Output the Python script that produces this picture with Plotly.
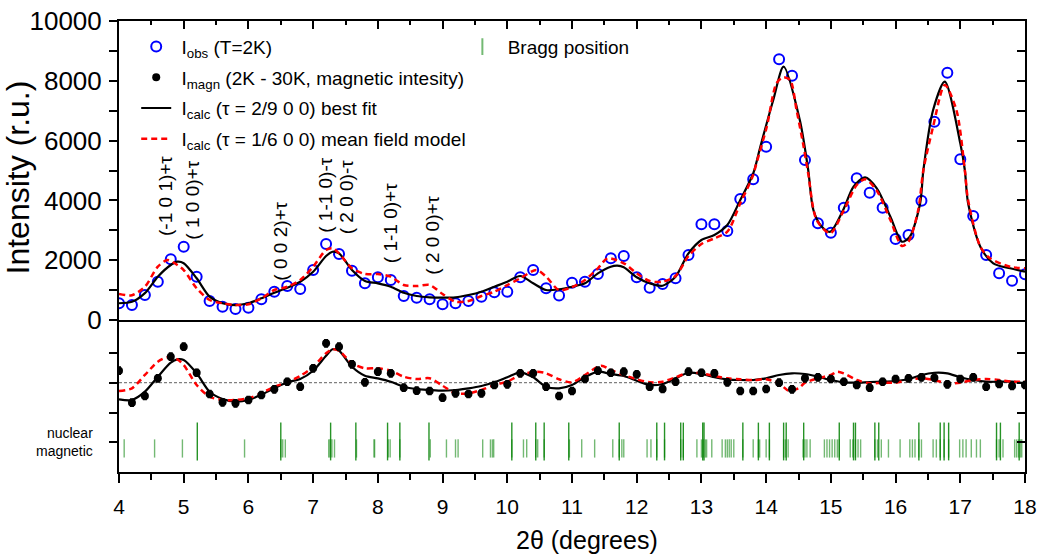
import plotly.graph_objects as go

# ---- measured points (2θ in degrees) ----
two_theta = [4.0, 4.2, 4.4, 4.6, 4.8, 5.0, 5.2, 5.4, 5.6, 5.8, 6.0, 6.2, 6.4, 6.6, 6.8,
             7.0, 7.2, 7.4, 7.6, 7.8, 8.0, 8.2, 8.4, 8.6, 8.8, 9.0, 9.2, 9.4, 9.6, 9.8,
             10.0, 10.2, 10.4, 10.6, 10.8, 11.0, 11.2, 11.4, 11.6, 11.8, 12.0, 12.2, 12.4,
             12.6, 12.8, 13.0, 13.2, 13.4, 13.6, 13.8, 14.0, 14.2, 14.4, 14.6, 14.8, 15.0,
             15.2, 15.4, 15.6, 15.8, 16.0, 16.2, 16.4, 16.6, 16.8, 17.0, 17.2, 17.4, 17.6,
             17.8, 18.0]

# observed intensity at T = 2 K
i_obs = [560, 500, 836, 1280, 2030, 2450, 1450, 635, 445, 368, 411, 692, 947, 1137, 1037,
         1672, 2542, 2207, 1649, 1227, 1428, 1338, 803, 746, 692, 525, 559, 635, 779, 926,
         947, 1428, 1672, 1060, 820, 1247, 1281, 1538, 2063, 2140, 1428, 1080, 1204,
         1395, 2174, 3200, 3200, 2977, 4047, 4706, 5796, 8719, 8171, 5351, 3234, 2920,
         3756, 4739, 4258, 3756, 2709, 2843, 3990, 6632, 8271, 5375, 3478, 2174, 1562,
         1314, 1528]

# magnetic intensity (2K - 30K difference)
i_magn = [401, -669, -445, 147, 870, 1204, 334, -378, -656, -689, -579, -411, -221, 33, -134,
          482, 1318, 1204, 615, 13, 368, 314, -167, -268, -278, -502, -355, -378, -355, -77,
          -54, 314, 314, -134, -445, -278, 124, 401, 334, 368, 281, -134, -211,
          33, 368, 334, 314, 13, -278, -278, -211, 0, -221, 147, 181, 124,
          33, -77, -167, 33, 124, 147, 181, 167, -54, 124, 181, -134, -43,
          -110, -77]
MAGN_ERR = 120

# ---- calculated profiles, top panel ----
fit_x = [4.0, 4.2, 4.4, 4.6, 4.8, 4.9, 5.0, 5.2, 5.4, 5.6, 5.8, 6.0, 6.2, 6.4, 6.6, 6.8,
         7.0, 7.2, 7.3, 7.4, 7.6, 7.8, 8.0, 8.2, 8.4, 8.6, 8.8, 9.0, 9.2, 9.4, 9.6, 9.8,
         10.0, 10.2, 10.4, 10.6, 10.8, 11.0, 11.2, 11.4, 11.6, 11.7, 11.8, 12.0, 12.2,
         12.4, 12.6, 12.8, 13.0, 13.2, 13.4, 13.6, 13.8, 13.91, 14.11, 14.27, 14.52,
         14.65, 14.73, 14.86, 14.99, 15.19, 15.35, 15.53, 15.71, 15.92, 16.10, 16.22,
         16.38, 16.43, 16.58, 16.76, 17.00, 17.07, 17.12, 17.31, 17.51, 17.77, 18.0]
fit_y = [560, 610, 900, 1450, 1840, 1950, 1900, 1395, 780, 560, 500, 560, 725, 913, 1080, 1280,
         1615, 2140, 2284, 2230, 1672, 1304, 1227, 1114, 913, 803, 759, 746, 759, 836, 947, 1114,
         1280, 1472, 1227, 1003, 1027, 1114, 1227, 1562, 1783, 1816, 1763, 1428, 1227,
         1147, 1450, 2230, 2676, 2843, 3177, 4013, 4900, 5796, 7358, 8472, 6689,
         5017, 3680, 3120, 2953, 3679, 4458, 4772, 4405, 3455, 2619, 2786,
         3903, 5017, 7023, 7970, 5909, 5017, 3913, 2452, 1896, 1729, 1615]

mf_x = [4.0, 4.2, 4.4, 4.6, 4.75, 4.9, 5.0, 5.2, 5.4, 5.6, 5.8, 6.0, 6.2, 6.4, 6.6, 6.8,
        7.0, 7.2, 7.3, 7.4, 7.6, 7.8, 8.0, 8.2, 8.4, 8.6, 8.8, 9.0, 9.2, 9.4, 9.6, 9.8,
        10.0, 10.2, 10.45, 10.6, 10.8, 11.0, 11.2, 11.4, 11.55, 11.8, 12.0, 12.2, 12.4,
        12.6, 12.8, 13.0, 13.2, 13.4, 13.6, 13.79, 13.85, 14.01, 14.16, 14.26, 14.37,
        14.47, 14.57, 14.65, 14.78, 14.99, 15.19, 15.40, 15.53, 15.71, 15.92, 16.10,
        16.20, 16.35, 16.43, 16.58, 16.76, 16.94, 17.07, 17.12, 17.31, 17.46, 17.77, 18.0]
mf_y = [870, 830, 1114, 1783, 2007, 1840, 1672, 1060, 669, 560, 500, 525, 725, 1003, 1114, 1338,
        1783, 2341, 2398, 2230, 1729, 1538, 1538, 1450, 1170, 1137, 1170, 870, 612, 635, 803, 947,
        1170, 1395, 1672, 1450, 1000, 1100, 1338, 1729, 2063, 1896, 1562, 1304, 1280,
        1472, 2140, 2542, 2732, 2953, 3903, 4794, 5240, 6465, 7916, 8116, 8027,
        7023, 5909, 4900, 3344, 2899, 3622, 4515, 4705, 4325, 3344, 2475,
        2619, 3679, 5017, 6465, 7860, 7023, 5017, 4013, 2452, 2063, 1783, 1729]

# ---- calculated magnetic profiles, bottom panel ----
magn_fit_x = [4.0, 4.2, 4.4, 4.6, 4.8, 4.9, 5.0, 5.2, 5.4, 5.6, 5.8, 6.0, 6.2, 6.4, 6.6, 6.8,
              7.0, 7.2, 7.3, 7.4, 7.6, 7.8, 8.0, 8.2, 8.4, 8.6, 8.8, 9.0, 9.2, 9.4, 9.6, 9.8,
              10.0, 10.2, 10.4, 10.6, 10.8, 11.0, 11.2, 11.4, 11.6, 11.8, 12.0, 12.2, 12.4,
              12.6, 12.8, 13.0, 13.2, 13.4, 13.6, 13.8, 14.0, 14.2, 14.4, 14.6, 14.8, 15.0,
              15.2, 15.4, 15.6, 15.8, 16.0, 16.2, 16.4, 16.6, 16.8, 17.0, 17.2, 17.4, 17.6,
              17.8, 18.0]
magn_fit_y = [-555, -579, -301, 201, 669, 781, 759, 314, -301, -545, -635, -579, -401, -187, 13, 124,
              401, 903, 1117, 1070, 535, 234, 147, 33, -134, -211, -244, -268, -244, -187, -110, 13,
              181, 348, 181, -134, -187, -77, 181, 368, 291, 224, 67, -77, -43,
              147, 334, 291, 181, 114, 90, 90, 147, 258, 314, 291, 201, 90,
              13, 0, 23, 33, 57, 114, 258, 334, 314, 181, 90, 33, 33,
              33, -20]

magn_mf_x = [4.0, 4.2, 4.4, 4.6, 4.75, 4.9, 5.0, 5.2, 5.4, 5.6, 5.8, 6.0, 6.2, 6.4, 6.6, 6.8,
             7.0, 7.2, 7.3, 7.4, 7.6, 7.8, 8.0, 8.2, 8.4, 8.6, 8.8, 9.0, 9.2, 9.4, 9.6, 9.8,
             10.0, 10.2, 10.45, 10.6, 10.8, 11.0, 11.2, 11.45, 11.6, 11.8, 12.0, 12.2, 12.4,
             12.6, 12.8, 13.0, 13.2, 13.4, 13.6, 13.8, 14.0, 14.2, 14.35, 14.5, 14.6, 14.8,
             15.0, 15.1, 15.2, 15.4, 15.6, 15.8, 16.0, 16.2, 16.4, 16.6, 16.8, 17.0, 17.2,
             17.4, 17.6, 17.8, 18.0]
magn_mf_y = [-278, -187, 258, 702, 849, 781, 592, -77, -468, -579, -579, -522, -355, -134, 13, 224,
             535, 983, 1117, 1070, 649, 482, 482, 401, 201, 124, 147, -100, -355, -355, -244, -77,
             33, 258, 368, 314, 114, 13, 258, 569, 425, 258, 114, 13, 33,
             181, 334, 314, 224, 147, 114, 90, 114, -20, -268, -187, 0, 147,
             258, 368, 314, 90, -20, 0, 0, 90, 147, 90, -20, 0, 90,
             124, 90, 33, 33]

# ---- Bragg reflection positions (2θ) ----
bragg_nuclear = [5.21, 6.50, 7.27, 7.66, 8.15, 8.34, 8.79, 10.07, 10.44, 10.57, 10.95, 11.73,
                 12.31, 12.43, 12.68, 12.72, 13.02, 13.04, 13.64, 13.88, 14.05, 14.27, 14.31,
                 14.58, 15.13, 15.35, 15.38, 15.68, 15.74, 16.36, 16.69, 16.75, 16.82, 17.56,
                 17.62, 17.91]
bragg_magnetic = [4.08, 4.55, 4.98, 5.94, 6.50, 6.53, 6.57, 7.24, 7.26, 7.29, 7.33, 7.67, 7.94,
                  7.95, 8.16, 8.19, 8.34, 8.81, 9.06, 9.20, 9.24, 9.62, 9.74, 9.77, 9.79, 10.07,
                  10.25, 10.30, 10.44, 10.47, 10.57, 10.96, 11.15, 11.35, 11.63, 11.73, 11.77,
                  11.80, 12.16, 12.22, 12.31, 12.43, 12.68, 12.72, 12.93, 13.00, 13.03, 13.06,
                  13.08, 13.16, 13.32, 13.37, 13.40, 13.43, 13.46, 13.50, 13.64, 13.80, 13.88,
                  13.90, 14.00, 14.05, 14.27, 14.30, 14.34, 14.57, 14.60, 14.63, 14.68, 14.90,
                  14.94, 14.98, 15.02, 15.06, 15.10, 15.13, 15.30, 15.34, 15.38, 15.42, 15.46,
                  15.68, 15.72, 15.78, 15.89, 16.07, 16.22, 16.26, 16.30, 16.36, 16.40, 16.58,
                  16.63, 16.69, 16.75, 16.82, 16.99, 17.04, 17.09, 17.17, 17.25, 17.31, 17.56,
                  17.60, 17.66, 17.84, 17.87, 17.90, 17.93, 17.95]
NUCLEAR_ROW = -1967
MAGNETIC_ROW = -2200

# ---- reflection labels ----
hkl_labels = ["(-1 0 1)+τ", "( 1 0 0)+τ", "( 0 0 2)+τ", "( 1-1 0)-τ", "( 2 0 0)-τ",
              "( 1-1 0)+τ", "( 2 0 0)+τ"]
hkl_x = [4.71, 5.13, 6.49, 7.18, 7.52, 8.19, 8.84]
hkl_y = [2742, 2609, 1237, 2843, 2809, 1839, 1438]

# ---- axes ----
X_RANGE = [4, 18]
TOP_RANGE = [0, 10000]
BOTTOM_RANGE = [-2987, 2097]
top_tickvals = [0, 1000, 2000, 3000, 4000, 5000, 6000, 7000, 8000, 9000, 10000]
top_ticktext = ["0", "", "2000", "", "4000", "", "6000", "", "8000", "", "10000"]
bottom_tickvals = [-2000, -1000, 0, 1000]
SPLIT = 0.337

FONT = "Liberation Sans, Arial, sans-serif"
BLUE = "#0000ff"
RED = "#ff0000"
GREEN = "rgba(0,128,0,0.55)"
DKGREEN = "rgba(0,128,0,0.85)"
GAP = "\u00a0"

fig = go.Figure()

# top panel
fig.add_trace(go.Scatter(
    x=two_theta, y=i_obs, mode="markers", xaxis="x2", yaxis="y2",
    name=GAP + "I<sub>obs</sub> (T=2K)", legendrank=1, legendgroup="obs",
    marker=dict(symbol="circle-open", size=10, color=BLUE, line=dict(width=2, color=BLUE))))
fig.add_trace(go.Scatter(
    x=fit_x, y=fit_y, mode="lines", xaxis="x2", yaxis="y2",
    name=GAP + "I<sub>calc</sub> (τ = 2/9 0 0) best fit", legendrank=3, legendgroup="fit",
    line=dict(color="black", width=2.2, shape="spline", smoothing=0.8)))
fig.add_trace(go.Scatter(
    x=mf_x, y=mf_y, mode="lines", xaxis="x2", yaxis="y2",
    name=GAP + "I<sub>calc</sub> (τ = 1/6 0 0) mean field model", legendrank=4,
    legendgroup="mf",
    line=dict(color=RED, width=2.5, dash="6px,4px", shape="spline", smoothing=0.8)))

# bottom panel
fig.add_trace(go.Scatter(
    x=magn_fit_x, y=magn_fit_y, mode="lines", xaxis="x", yaxis="y", showlegend=False,
    legendgroup="fit",
    line=dict(color="black", width=2.2, shape="spline", smoothing=0.8)))
fig.add_trace(go.Scatter(
    x=magn_mf_x, y=magn_mf_y, mode="lines", xaxis="x", yaxis="y", showlegend=False,
    legendgroup="mf",
    line=dict(color=RED, width=2.5, dash="6px,4px", shape="spline", smoothing=0.8)))
fig.add_trace(go.Scatter(
    x=two_theta, y=i_magn, mode="markers", xaxis="x", yaxis="y",
    name=GAP + "I<sub>magn</sub> (2K - 30K, magnetic intesity)", legendrank=2,
    legendgroup="magn",
    marker=dict(symbol="circle", size=8, color="black"),
    error_y=dict(type="constant", value=MAGN_ERR, color="black", thickness=1.5, width=2)))

# Bragg ticks
fig.add_trace(go.Scatter(
    x=bragg_nuclear, y=[NUCLEAR_ROW] * len(bragg_nuclear), mode="markers",
    xaxis="x", yaxis="y", showlegend=False,
    marker=dict(symbol="line-ns", size=27, color=DKGREEN, line=dict(width=1.4, color=DKGREEN))))
fig.add_trace(go.Scatter(
    x=bragg_magnetic, y=[MAGNETIC_ROW] * len(bragg_magnetic), mode="markers",
    xaxis="x", yaxis="y", name=GAP + "Bragg position", legend="legend2",
    marker=dict(symbol="line-ns", size=13, color=GREEN, line=dict(width=1.4, color=GREEN))))

# empty traces so the mirrored tick axes get drawn
for xa, ya in (("x3", "y2"), ("x2", "y4"), ("x", "y3")):
    fig.add_trace(go.Scatter(x=[None], y=[None], xaxis=xa, yaxis=ya, showlegend=False,
                             hoverinfo="skip"))

annotations = []
for label, lx, ly in zip(hkl_labels, hkl_x, hkl_y):
    annotations.append(dict(text=label, x=lx, y=ly, xref="x2", yref="y2", textangle=-90,
                            xanchor="center", yanchor="bottom", showarrow=False,
                            font=dict(size=19, family=FONT)))
annotations.append(dict(text="nuclear<br>magnetic", x=-0.027, y=bottom_tickvals[0],
                        xref="paper", yref="y", xanchor="right", yanchor="middle",
                        align="right", showarrow=False, font=dict(size=14, family=FONT)))
# axis titles
annotations.append(dict(text="2θ (degrees)", x=0.5166, y=-0.151, xref="paper", yref="paper",
                        xanchor="center", yanchor="middle", showarrow=False,
                        font=dict(size=25, family=FONT)))
annotations.append(dict(text="Intensity (r.u.)", x=-0.112, y=0.652, xref="paper",
                        yref="paper", xanchor="center", yanchor="middle", textangle=-90,
                        showarrow=False, font=dict(size=32, family=FONT)))

axis_common = dict(showgrid=False, zeroline=False, linecolor="black", linewidth=2,
                   tickcolor="black", tickwidth=2, automargin=False)

fig.update_layout(
    width=1042, height=556,
    margin=dict(l=119, r=17, t=21, b=84, autoexpand=False),
    paper_bgcolor="white", plot_bgcolor="white",
    font=dict(family=FONT, size=20, color="black"),
    showlegend=True,
    xaxis=dict(domain=[0, 1], anchor="y", range=X_RANGE, tick0=4, dtick=1,
               ticks="outside", ticklen=9, showline=True, mirror=False,
               ticklabelstandoff=6, tickfont=dict(size=21),
               minor=dict(tick0=4, dtick=0.5, ticks="outside", ticklen=6, tickwidth=2,
                          tickcolor="black", showgrid=False),
               **axis_common),
    xaxis2=dict(domain=[0, 1], anchor="y2", range=X_RANGE, showticklabels=False,
                ticks="", showline=True, mirror=True, **axis_common),
    xaxis3=dict(overlaying="x2", anchor="y2", side="top", range=X_RANGE, tick0=4, dtick=1,
                ticks="inside", ticklen=8, showticklabels=False, showline=False,
                minor=dict(tick0=4, dtick=0.5, ticks="inside", ticklen=4, tickwidth=2,
                           tickcolor="black", showgrid=False),
                **axis_common),
    yaxis=dict(domain=[0, SPLIT], anchor="x", range=BOTTOM_RANGE, tickvals=bottom_tickvals,
               ticks="outside", ticklen=8, showticklabels=False, showline=True, mirror=True,
               **axis_common),
    yaxis2=dict(domain=[SPLIT, 1], anchor="x2", range=TOP_RANGE, tickvals=top_tickvals,
                ticktext=top_ticktext, ticks="outside", ticklen=8, showline=True, mirror=True,
                tickfont=dict(size=26), ticklabelstandoff=2,
                **axis_common),
    yaxis3=dict(overlaying="y", anchor="x", side="right", range=BOTTOM_RANGE,
                tickvals=bottom_tickvals, ticks="inside", ticklen=8, showticklabels=False,
                showline=False, **axis_common),
    yaxis4=dict(overlaying="y2", anchor="x2", side="right", range=TOP_RANGE,
                tickvals=top_tickvals, ticks="inside", ticklen=8, showticklabels=False,
                showline=False, **axis_common),
    legend=dict(x=0.019, y=0.985, xanchor="left", yanchor="top", bgcolor="rgba(0,0,0,0)",
                font=dict(size=19, family=FONT), itemsizing="trace",
                traceorder="grouped", tracegroupgap=3),
    legend2=dict(x=0.379, y=0.985, xanchor="left", yanchor="top", bgcolor="rgba(0,0,0,0)",
                 font=dict(size=19, family=FONT), itemsizing="constant"),
    shapes=[dict(type="line", xref="x", yref="y", x0=X_RANGE[0], x1=X_RANGE[1], y0=0, y1=0,
                 line=dict(color="#808080", width=1.3, dash="3px,2px"), layer="below")],
    annotations=annotations,
)

fig.write_html("out.html")
